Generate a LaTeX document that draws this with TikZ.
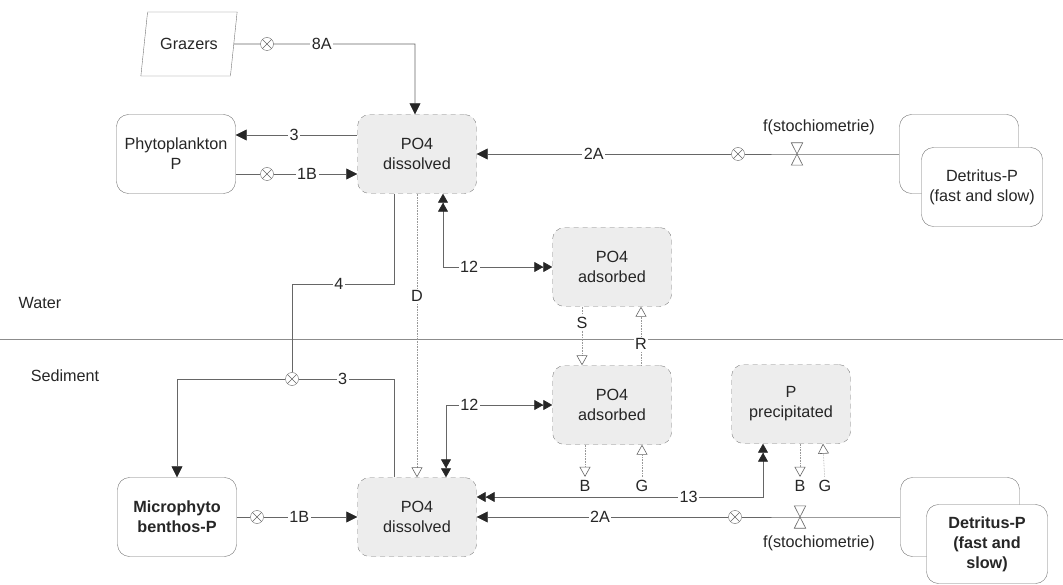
\documentclass[tikz,border=0pt]{standalone}
\usepackage{fontspec}
\setmainfont{Liberation Sans}
\usetikzlibrary{shapes.geometric, arrows.meta, positioning}

\begin{document}
\begin{tikzpicture}[
  x=1pt, y=-1pt,
  font=\fontsize{16.2}{20}\selectfont,
  every node/.append style={text=black!85},
  box/.style={draw=black!55, rounded corners=12pt, minimum width=119pt, minimum height=79pt, align=center, fill=white, inner sep=2pt},
  pool/.style={box, dash pattern=on 5pt off 4pt, fill=black!7, draw=black!50},
  bold/.style={font=\fontsize{16.2}{20}\selectfont\bfseries},
  para/.style={trapezium, trapezium left angle=74, trapezium right angle=106, trapezium stretches=true, draw=black!55, minimum width=97pt, minimum height=64pt},
  mult/.style={circle, draw=black!60, fill=white, inner sep=0pt, minimum size=13pt, path picture={\draw[black!60] (path picture bounding box.north west) -- (path picture bounding box.south east) (path picture bounding box.north east) -- (path picture bounding box.south west);}},
  valve/.style={inner sep=0pt, minimum width=11pt, minimum height=22pt},
  lbl/.style={fill=white, inner sep=1.5pt},
  line/.style={draw=black!60, line width=0.7pt},
  arr/.style={line, -{Triangle[length=11pt, width=11pt, color=black!85]}},
  dbl/.style={line, {Triangle[length=9pt, width=10pt, color=black!85]Triangle[length=9pt, width=10pt, color=black!85]}-{Triangle[length=9pt, width=10pt, color=black!85]Triangle[length=9pt, width=10pt, color=black!85]}},
  faint/.style={draw=black!40, line width=0.6pt, densely dotted},
  opn/.style={faint, -{Triangle[open, length=10pt, width=11pt, color=black!60]}}
]
  \useasboundingbox (0,0) rectangle (1063,585);

  % water / sediment boundary
  \draw[draw=black!45, line width=0.7pt] (0,339) -- (1063,339);
  \node (wlab) at (40,303) {Water};
  \node (slab) at (65,376) {Sediment};

  % water column
  \node[para] (grazers) at (189,44) {Grazers};
  \node[box] (phyto) at (176,154) {Phytoplankton\\P};
  \node[pool] (po4w) at (417,154) {PO4\\dissolved};
  \node[pool] (adsw) at (612,267) {PO4\\adsorbed};
  \node[box] (det1b) at (959,154) {};
  \node[box, minimum width=121pt] (det1) at (982,187) {Detritus-P\\(fast and slow)};
  \node[mult] (m8) at (267,44) {};
  \node[mult] (m1w) at (267,174) {};
  \node[mult] (m2w) at (738,154) {};
  \node[valve, label={[xshift=22pt, label distance=4pt]above:f(stochiometrie)}] (v2w) at (797,154) {};

  % sediment
  \node[box, bold] (micro) at (177,517) {Microphyto\\benthos-P};
  \node[pool] (po4s) at (417,517) {PO4\\dissolved};
  \node[pool] (adss) at (612,405) {PO4\\adsorbed};
  \node[pool] (pprec) at (791,404) {P\\precipitated};
  \node[box] (det2b) at (960,517) {};
  \node[box, bold, minimum width=121pt] (det2) at (987,544) {Detritus-P\\(fast and\\slow)};
  \node[mult] (m3s) at (292,379) {};
  \node[mult] (m1s) at (257,517) {};
  \node[mult] (m2s) at (735,517) {};
  \node[valve, label={[xshift=19pt, label distance=4pt]below:f(stochiometrie)}] (v2s) at (800,517) {};
  \node (bads) at (585,486) {B};
  \node (gads) at (642,486) {G};
  \node (bprec) at (800,486) {B};
  \node (gprec) at (825,486) {G};

  % valves
  \foreach \v in {v2w, v2s}
    \draw[black!60, fill=white, line width=0.6pt] (\v.north west) -- (\v.north east) -- (\v.south west) -- (\v.south east) -- cycle;

  % flows in the water
  \draw[arr] (grazers) -- (m8) -| node[lbl, pos=0.17]{8A} ([xshift=-2pt]po4w.north);
  \draw[arr] ([yshift=19pt]po4w.west) -- node[lbl, pos=0.52]{3} ([yshift=19pt]phyto.east);
  \draw[arr] (phyto.east |- m1w) -- (m1w) -- node[lbl, pos=0.4]{1B} (m1w -| po4w.west);
  \draw[arr] (det1b.west) -- (v2w.center) -- (m2w) -- node[lbl, pos=0.54]{2A} (po4w.east);
  \draw[dbl] ([xshift=26pt]po4w.south) |- node[lbl, pos=0.62]{12} (adsw.west);
  \draw[faint, -{Triangle[open, length=10pt, width=11pt, color=black!60]}] (po4w.south) -- node[lbl, pos=0.36]{D} (po4s.north);
  \draw[line] ([xshift=-23pt]po4w.south) |- node[lbl, pos=0.77]{4} ([yshift=95pt]m3s.center) -- (m3s);
  \draw[opn] ([xshift=-30pt]adsw.south) -- node[lbl, pos=0.27]{S} ([xshift=-30pt]adss.north);
  \draw[opn] ([xshift=29pt]adss.north) -- node[lbl, pos=0.37]{R} ([xshift=29pt]adsw.south);

  % flows in the sediment
  \draw[arr] ([xshift=-23pt]po4s.north) |- node[lbl, pos=0.77]{3} (m3s) -| (micro.north);
  \draw[arr] (micro.east |- m1s) -- (m1s) -- node[lbl, pos=0.38]{1B} (m1s -| po4s.west);
  \draw[arr] (det2b.west) -- (v2s.center) -- (m2s) -- node[lbl, pos=0.51]{2A} (po4s.east);
  \draw[dbl] ([xshift=29pt]po4s.north) |- node[lbl, pos=0.61]{12} (adss.west);
  \draw[dbl] ([yshift=20pt]po4s.east) -| node[lbl, pos=0.37]{13} ([xshift=-28pt]pprec.south);
  \draw[opn] ([xshift=-27pt]adss.south) -- (bads);
  \draw[opn] (gads) -- ([xshift=30pt]adss.south);
  \draw[opn] ([xshift=9pt]pprec.south) -- (bprec);
  \draw[opn] (gprec) -- ([xshift=32pt]pprec.south);
\end{tikzpicture}
\end{document}
